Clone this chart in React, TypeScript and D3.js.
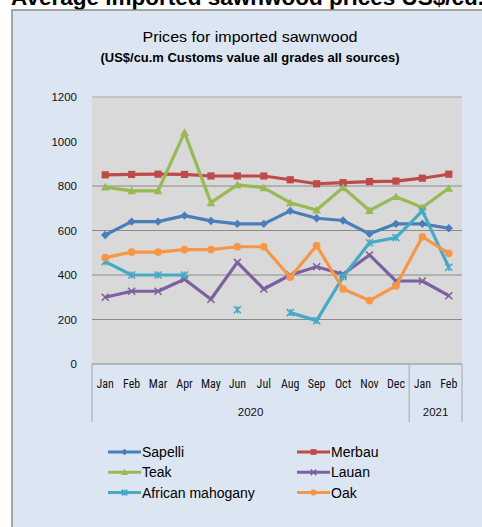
import * as d3 from "d3";

const months = ["Jan", "Feb", "Mar", "Apr", "May", "Jun", "Jul", "Aug", "Sep", "Oct", "Nov", "Dec", "Jan", "Feb"];
const yearLabels = ["2020", "2021"];
const yearSpans = [12, 2];
const yTicks = [0, 200, 400, 600, 800, 1000, 1200];
const gridValues = [200, 400, 600, 800];

const sapelli = [580, 640, 640, 667, 643, 630, 630, 688, 655, 645, 585, 630, 630, 610];
const merbau = [850, 852, 853, 852, 845, 845, 845, 828, 810, 815, 820, 822, 835, 853];
const teak = [795, 778, 778, 1040, 725, 805, 792, 725, 692, 793, 690, 752, 703, 790];
const lauan = [300, 327, 327, 381, 291, 457, 337, 400, 437, 403, 490, 373, 373, 307];
const mahogany = [460, 400, 400, 400, null, 244, null, 231, 195, 392, 545, 568, 688, 435];
const oak = [478, 503, 503, 514, 514, 527, 527, 390, 532, 337, 285, 351, 572, 497];

type Series = { name: string; values: (number | null)[]; color: string; marker: string };

const series: Series[] = [
  { name: "Sapelli", values: sapelli, color: "#4a7ebb", marker: "diamond" },
  { name: "Merbau", values: merbau, color: "#be4b48", marker: "square" },
  { name: "Teak", values: teak, color: "#98b954", marker: "triangle" },
  { name: "Lauan", values: lauan, color: "#7d60a0", marker: "x" },
  { name: "African mahogany", values: mahogany, color: "#46aac5", marker: "star" },
  { name: "Oak", values: oak, color: "#f79646", marker: "circle" },
];
const legendOrder = ["Sapelli", "Merbau", "Teak", "Lauan", "African mahogany", "Oak"];

const narrow = "'Liberation Sans Narrow', 'Roboto Condensed', 'Liberation Sans', sans-serif";
const sans = "'Liberation Sans', Arial, sans-serif";

function Marker({ type, x, y, color, s = 1 }: { type: string; x: number; y: number; color: string; s?: number }) {
  if (type === "diamond") {
    const r = 4.2 * s;
    return <path d={`M${x},${y - r}L${x + r},${y}L${x},${y + r}L${x - r},${y}Z`} fill={color} />;
  }
  if (type === "square") {
    const r = 3.6 * s;
    return <rect x={x - r} y={y - r} width={r * 2} height={r * 2} fill={color} />;
  }
  if (type === "triangle") {
    const r = 4.3 * s;
    return <path d={`M${x},${y - r}L${x + r},${y + r * 0.8}L${x - r},${y + r * 0.8}Z`} fill={color} />;
  }
  if (type === "circle") {
    return <circle cx={x} cy={y} r={3.8 * s} fill={color} />;
  }
  if (type === "x") {
    const r = 3.5 * s;
    return (
      <path d={`M${x - r},${y - r}L${x + r},${y + r}M${x + r},${y - r}L${x - r},${y + r}`} stroke={color} strokeWidth={1.6} />
    );
  }
  const r = 3.5 * s;
  return (
    <path
      d={`M${x - r},${y - r}L${x + r},${y + r}M${x + r},${y - r}L${x - r},${y + r}M${x},${y - r}L${x},${y + r}`}
      stroke={color}
      strokeWidth={1.6}
    />
  );
}

export default function App() {
  const width = 482;
  const height = 527;
  const plot = { left: 92, right: 462, top: 97, bottom: 364 };

  const x = d3.scaleBand<number>().domain(d3.range(months.length)).range([plot.left, plot.right]);
  const y = d3.scaleLinear().domain([0, 1200]).range([plot.bottom, plot.top]);
  const cx = (i: number) => (x(i) as number) + x.bandwidth() / 2;

  const line = d3
    .line<number | null>()
    .defined((d) => d != null)
    .x((_, i) => cx(i))
    .y((d) => y(d as number));

  // year group boundaries
  const bounds = [0];
  yearSpans.forEach((n) => bounds.push(bounds[bounds.length - 1] + n));

  return (
    <svg
      width={width}
      height={height}
      style={{ position: "fixed", left: 0, top: 0, background: "#ffffff" }}
    >
      {/* page heading, cropped by the top edge like in the source */}
      <text x={11} y={5} fontFamily={sans} fontWeight="bold" fontSize={22.5} fill="#000">
        Average imported sawnwood prices US$/cu.m
      </text>
      <rect x={12} y={10} width={480} height={530} fill="#dce6f2" stroke="#8c8c8c" strokeWidth={1.5} />

      <text x={250} y={42} textAnchor="middle" fontFamily={sans} fontSize={14.5} fill="#000" textLength={215} lengthAdjust="spacingAndGlyphs">
        Prices for imported sawnwood
      </text>
      <text x={250} y={62} textAnchor="middle" fontFamily={sans} fontSize={13.5} fontWeight="bold" fill="#000" textLength={299} lengthAdjust="spacingAndGlyphs">
        (US$/cu.m Customs value all grades all sources)
      </text>

      <rect x={plot.left} y={plot.top} width={plot.right - plot.left} height={plot.bottom - plot.top} fill="#d9d9d9" />
      {gridValues.map((v) => (
        <line key={v} x1={plot.left} x2={plot.right} y1={y(v)} y2={y(v)} stroke="#8a8a8a" strokeWidth={1} />
      ))}
      <line x1={plot.left} x2={plot.right} y1={y(1200)} y2={y(1200)} stroke="#a6a6a6" strokeWidth={1} />
      <line x1={plot.left} x2={plot.right} y1={plot.bottom} y2={plot.bottom} stroke="#8a8a8a" strokeWidth={1} />

      {yTicks.map((v) => (
        <text key={v} x={77} y={y(v) + 4} textAnchor="end" fontFamily={sans} fontSize={11.5} fill="#111">
          {v}
        </text>
      ))}

      {bounds.map((b, i) => {
        const xx = b === months.length ? plot.right : (x(b) as number);
        return <line key={i} x1={xx} x2={xx} y1={plot.bottom} y2={422} stroke="#a6a6a6" strokeWidth={1} />;
      })}
      {months.map((m, i) => (
        <text key={i} x={cx(i)} y={388} textAnchor="middle" fontFamily={narrow} fontSize={12} fill="#111">
          {m}
        </text>
      ))}
      {yearLabels.map((yl, i) => {
        const a = x(bounds[i]) as number;
        const b = bounds[i + 1] === months.length ? plot.right : (x(bounds[i + 1]) as number);
        return (
          <text key={yl} x={(a + b) / 2} y={416} textAnchor="middle" fontFamily={sans} fontSize={11.5} fill="#111">
            {yl}
          </text>
        );
      })}

      {series.map((s) => (
        <g key={s.name}>
          <path d={line(s.values) ?? ""} fill="none" stroke={s.color} strokeWidth={3.2} strokeLinejoin="round" />
          {s.values.map((v, i) =>
            v == null ? null : <Marker key={i} type={s.marker} x={cx(i)} y={y(v)} color={s.color} />
          )}
        </g>
      ))}

      {legendOrder.map((name, i) => {
        const s = series.find((d) => d.name === name)!;
        const col = i % 2;
        const row = Math.floor(i / 2);
        const lx = col === 0 ? 108 : 297;
        const ly = 452 + row * 20.3;
        return (
          <g key={name}>
            <line x1={lx} x2={lx + 33} y1={ly} y2={ly} stroke={s.color} strokeWidth={3} />
            <Marker type={s.marker} x={lx + 16.5} y={ly} color={s.color} s={0.8} />
            <text x={lx + 34} y={ly + 5} fontFamily={sans} fontSize={14} fill="#000">
              {name}
            </text>
          </g>
        );
      })}
    </svg>
  );
}
